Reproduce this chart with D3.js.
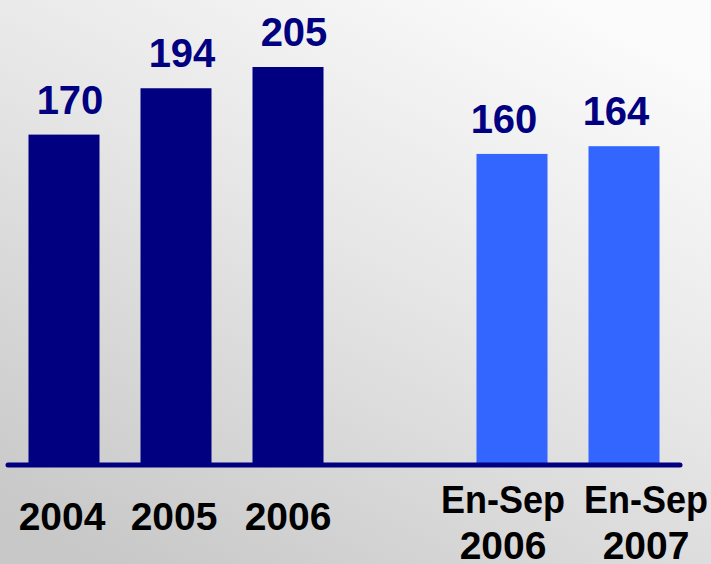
<!DOCTYPE html>
<html>
<head>
<meta charset="utf-8">
<script src="https://cdn.jsdelivr.net/npm/d3@7"></script>
<style>
  html, body { margin: 0; padding: 0; overflow: hidden; }
  svg { display: block; font-family: "Liberation Sans", Arial, sans-serif; }
</style>
</head>
<body>
<svg id="chart" width="711" height="564"></svg>
<script>
// data
var categories = ['2004', '2005', '2006', '', 'En-Sep 2006', 'En-Sep 2007'];
var labelLines = [['2004'], ['2005'], ['2006'], [], ['En-Sep', '2006'], ['En-Sep', '2007']];
var values = [170, 194, 205, null, 160, 164];
var groups = ['year', 'year', 'year', null, 'ytd', 'ytd'];

var colors = { year: '#000080', ytd: '#3366ff' };
// small nudges of the text, as in the slide
var valueDx = { year: 6, ytd: -8 };
var catDx = { '2004': -2, '2005': -2, '2006': 0, 'En-Sep 2006': -9, 'En-Sep 2007': 22 };

var W = 711, H = 564;
var svg = d3.select('#chart');

// background wash, light in the upper right, greyer bottom left
var defs = svg.append('defs');
var grad = defs.append('linearGradient')
    .attr('id', 'bg')
    .attr('x1', 0.8).attr('y1', 0)
    .attr('x2', 0.15).attr('y2', 1);
grad.append('stop').attr('offset', 0).attr('stop-color', '#fbfbfb');
grad.append('stop').attr('offset', 0.45).attr('stop-color', '#e6e6e6');
grad.append('stop').attr('offset', 1).attr('stop-color', '#c8c8c8');
svg.append('rect').attr('width', W).attr('height', H).attr('fill', 'url(#bg)');

var x = d3.scaleBand()
    .domain(categories)
    .range([8, 680])
    .paddingInner(0.366)
    .paddingOuter(0.183);

var y = d3.scaleLinear()
    .domain([0, 205])
    .range([463, 67]);

var rows = categories.map(function (c, i) {
    return { cat: c, value: values[i], group: groups[i], lines: labelLines[i] };
});
var bars = rows.filter(function (d) { return d.value != null; });

// bars
svg.append('g').selectAll('rect')
    .data(bars)
    .enter().append('rect')
    .attr('x', function (d) { return x(d.cat); })
    .attr('y', function (d) { return y(d.value); })
    .attr('width', x.bandwidth())
    .attr('height', function (d) { return y(0) - y(d.value); })
    .attr('fill', function (d) { return colors[d.group]; });

// baseline
svg.append('line')
    .attr('x1', x.range()[0]).attr('x2', x.range()[1])
    .attr('y1', y(0) + 2).attr('y2', y(0) + 2)
    .attr('stroke', '#000080')
    .attr('stroke-width', 5)
    .attr('stroke-linecap', 'round');

// value labels
svg.append('g').selectAll('text')
    .data(bars)
    .enter().append('text')
    .attr('x', function (d) { return x(d.cat) + x.bandwidth() / 2 + valueDx[d.group]; })
    .attr('y', function (d) { return y(d.value) - 21; })
    .attr('text-anchor', 'middle')
    .attr('font-size', 40)
    .attr('font-weight', 'bold')
    .attr('fill', '#000080')
    .text(function (d) { return d.value; });

// category labels
var cl = svg.append('g').selectAll('text')
    .data(rows.filter(function (d) { return d.lines.length; }))
    .enter().append('text')
    .attr('text-anchor', 'middle')
    .attr('font-size', 39)
    .attr('font-weight', 'bold')
    .attr('fill', '#000')
    .attr('transform', function (d) {
        var top = d.lines.length > 1 ? 513 : 530;
        return 'translate(' + (x(d.cat) + x.bandwidth() / 2 + catDx[d.cat]) + ',' + top + ')';
    });

cl.selectAll('tspan')
    .data(function (d) { return d.lines; })
    .enter().append('tspan')
    .attr('x', 0)
    .attr('y', function (d, i) { return i * 46; })
    .attr('textLength', function (d) { return d === 'En-Sep' ? 124 : null; })
    .attr('lengthAdjust', 'spacingAndGlyphs')
    .text(function (d) { return d; });
</script>
</body>
</html>
